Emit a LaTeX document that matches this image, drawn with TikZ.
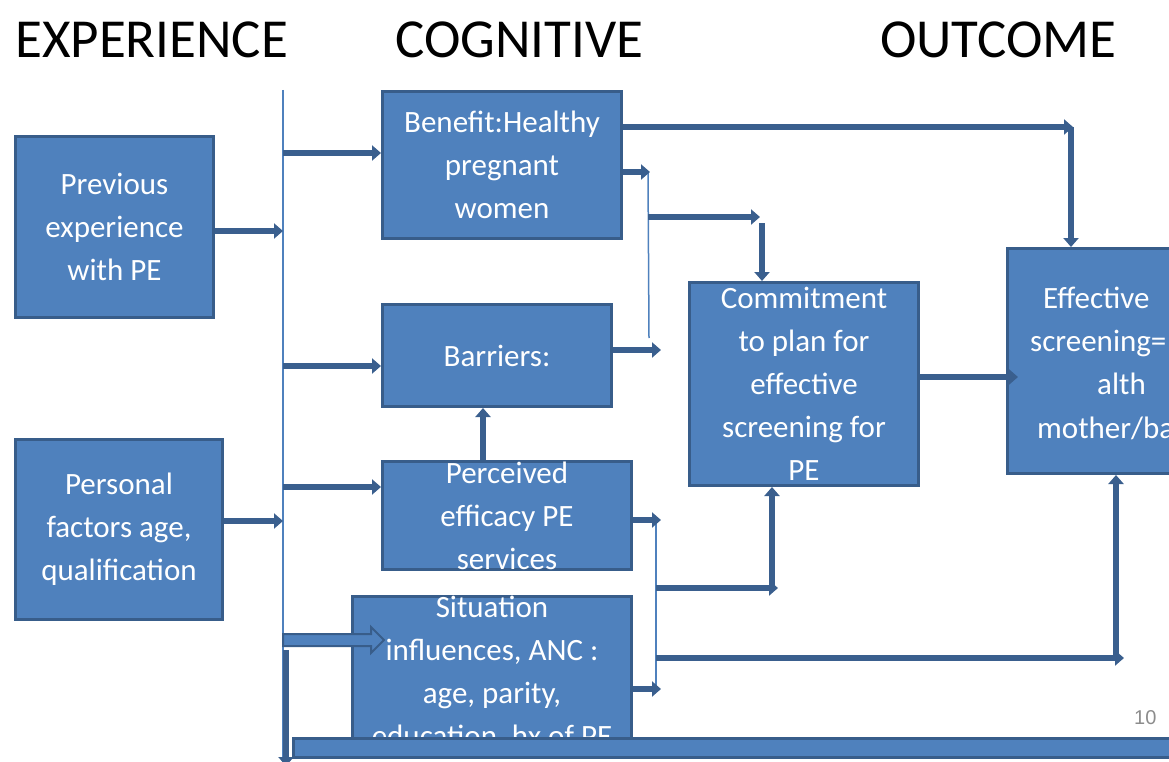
\documentclass[tikz,border=0pt]{standalone}
\usepackage{fontspec}
\setmainfont{Carlito}
\newfontfamily\numfont{Liberation Sans}
\usetikzlibrary{arrows.meta,calc}
\definecolor{boxfill}{HTML}{4F81BD}
\definecolor{boxline}{HTML}{385D8A}
\definecolor{arrcol}{HTML}{3A5F8E}
\definecolor{numgray}{HTML}{8C8C8C}
\tikzset{
  box/.style={draw=boxline, line width=3pt, fill=boxfill, text=white,
    font=\fontsize{31}{43}\selectfont, align=center, inner sep=0pt, anchor=north west},
  boxtext/.style={text=white, font=\fontsize{31}{43}\selectfont, inner sep=0pt, anchor=base west},
  title/.style={font=\fontsize{55}{60}\selectfont, inner sep=0pt, anchor=base west},
  arr/.style={draw=arrcol, line width=5.5pt, -{Triangle[length=9pt,width=15pt]}},
  thinline/.style={draw=boxfill, line width=1.5pt},
  bigarrow/.style={fill=boxfill, draw=boxline, line width=2pt}
}
\begin{document}
\begin{tikzpicture}[x=1pt,y=-1pt]
\useasboundingbox (0,0) rectangle (1169,762);
\clip (0,0) rectangle (1169,762);

% titles
\node[title] (t1) at (15,58) {EXPERIENCE};
\node[title] (t2) at (395,58) {COGNITIVE};
\node[title] (t3) at (880,58) {OUTCOME};

% main vertical line
\coordinate (vtop) at (283,90);
\coordinate (vbot) at (283,762);
\draw[thinline] (vtop) -- (vbot);

% thin connectors
\coordinate (b1) at (648,172);
\coordinate (b2) at (649,338);
\draw[thinline] (b1) -- (b2);
\coordinate (p1) at (656,520);
\coordinate (p2) at (656,690);
\draw[thinline] (p1) -- (p2);

% boxes
\node[box, minimum width=198, minimum height=181] (prev) at (14,135) {Previous\\experience\\with PE};
\node[box, minimum width=207, minimum height=180] (pers) at (14,438) {Personal\\factors age,\\qualification};
\node[box, minimum width=239, minimum height=147] (ben) at (381,90) {Benefit:Healthy\\pregnant\\women};
\node[box, minimum width=229, minimum height=102] (bar) at (381,303) {Barriers:};
\node[box, minimum width=249, minimum height=102] (perc) at (381,460) {Perceived\\efficacy PE\\services};
\node[box, minimum width=279, minimum height=152] (sit) at (351,595) {Situation\\influences, ANC :\\age, parity,\\education, hx of PE};
\node[box, minimum width=229, minimum height=203] (com) at (688,281) {Commitment\\to plan for\\effective\\screening for\\PE};
\node[box, minimum width=240, minimum height=225] (eff) at (1006,247) {};
\node[boxtext] (e1) at (1043,308) {Effective};
\node[boxtext] (e2) at (1030,351) {screening=};
\node[boxtext] (e3) at (1097,394) {alth};
\node[boxtext] (e4) at (1037,438) {mother/ba};

% arrows from experience boxes to the vertical line
\draw[arr] (prev.east |- 0,231) -- (vtop |- 0,231);
\draw[arr] (pers.east |- 0,521) -- (vtop |- 0,521);

% arrows from vertical line to cognitive boxes
\draw[arr] (vtop |- 0,153) -- (ben.west |- 0,153);
\draw[arr] (vtop |- 0,366) -- (bar.west |- 0,366);
\draw[arr] (vtop |- 0,487) -- (perc.west |- 0,487);
\fill[bigarrow] (283,634) -- (371,634) -- (371,627) -- (384,640) -- (371,653) -- (371,646) -- (283,646) -- cycle;
\coordinate (sitin) at (384,640);

% benefit -> effective (top)
\coordinate (c1) at (1073,127);
\draw[arr] (ben.east |- 0,127) -- (c1);
\draw[arr] (1071,127) -- (eff.north -| 1071,0);

% benefit -> small stub, then to commitment
\draw[arr] (ben.east |- b1) -- (650,172);
\coordinate (c2) at (760,217);
\draw[arr] (b1 |- 0,217) -- (c2);
\draw[arr] (762,223) -- (com.north -| 762,0);

% barriers -> stub
\draw[arr] (bar.east |- 0,350) -- (661,350);

% perceived -> barriers
\draw[arr] (perc.north -| 483,0) -- (bar.south -| 483,0);

% perceived, situation -> stubs
\draw[arr] (perc.east |- p1) -- (661,520);
\draw[arr] (sit.east |- 0,689) -- (661,689);

% to commitment from below
\coordinate (c3) at (778,588);
\draw[arr] (p1 |- 0,588) -- (c3);
\draw[arr] (772,590) -- (com.south -| 772,0);

% to effective from below
\coordinate (c4) at (1124,658);
\draw[arr] (p1 |- 0,658) -- (c4);
\draw[arr] (1116,660) -- (eff.south -| 1116,0);

% commitment -> effective
\draw[arr] (com.east |- 0,377) -- (1018,377);

% bottom down arrow
\draw[arr] (286,650) -- (286,766);

% page number
\node[font=\numfont\fontsize{20}{22}\selectfont, text=numgray, anchor=base west, inner sep=0pt] (pg) at (1134,724) {10};

% bottom bar
\node[draw=boxline, line width=3pt, fill=boxfill, anchor=north west, minimum width=930, minimum height=19, inner sep=0pt] (bb) at (292,737) {};
\end{tikzpicture}
\end{document}
